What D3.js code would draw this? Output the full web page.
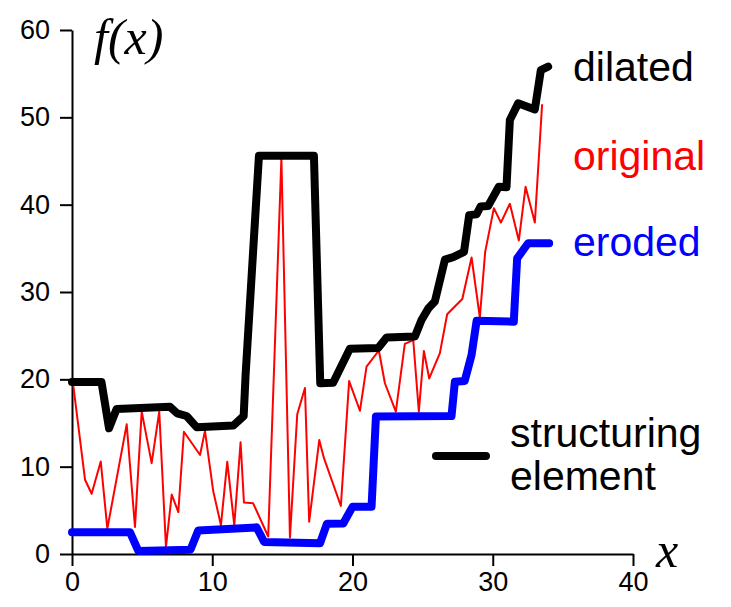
<!DOCTYPE html>
<html><head><meta charset="utf-8">
<script src="https://cdn.jsdelivr.net/npm/d3@7"></script>
<style>body{margin:0;background:#fff}</style>
</head><body>
<svg id="chart" width="731" height="607"></svg>
<script>
// original (red) samples
const origX = [0.1, 0.93, 1.40, 2.05, 2.52, 3.90, 4.49, 4.73, 4.97, 5.68, 6.22, 6.70, 7.11, 7.58, 7.98, 9.13, 9.48, 10.07, 10.62, 11.07, 11.57, 12.02, 12.26, 12.92, 13.99, 14.93, 15.54, 16.06, 16.61, 16.91, 17.63, 17.96, 19.17, 19.76, 20.53, 21.0, 21.88, 22.31, 23.09, 23.73, 24.33, 24.73, 25.09, 25.47, 26.23, 26.75, 27.83, 28.49, 29.08, 29.46, 30.08, 30.58, 31.22, 31.86, 32.34, 33.0, 33.52];
const origY = [19.2, 8.5, 6.9, 10.6, 2.9, 14.85, 3.1, 9.8, 16.3, 10.4, 16.3, 0.8, 6.8, 4.8, 14.0, 11.34, 14.1, 7.2, 3.3, 10.57, 3.3, 12.8, 5.9, 5.8, 2.0, 45.3, 1.9, 16.0, 19.0, 3.7, 13.05, 11.0, 5.5, 19.8, 16.4, 21.45, 23.3, 19.55, 16.3, 24.05, 24.5, 16.3, 23.25, 20.1, 23.0, 27.45, 29.2, 33.95, 27.1, 34.6, 39.6, 37.95, 40.1, 35.9, 42.05, 37.95, 51.5];
// dilated (black)
const dilX = [0, 2.1, 2.64, 3.18, 6.98, 7.5, 8.17, 8.9, 11.5, 12.24, 12.38, 13.33, 17.25, 17.7, 18.62, 19.81, 21.83, 22.43, 24.45, 24.92, 25.4, 25.87, 26.59, 27.18, 27.95, 28.32, 28.85, 29.13, 29.67, 30.43, 30.98, 31.22, 31.81, 33.0, 33.43, 33.95];
const dilY = [19.7, 19.7, 14.4, 16.6, 16.85, 16.1, 15.8, 14.5, 14.7, 15.8, 20.6, 45.6, 45.6, 19.55, 19.6, 23.5, 23.6, 24.8, 24.9, 26.8, 28.1, 28.9, 33.7, 34.0, 34.6, 38.8, 38.9, 39.8, 39.85, 42.05, 42.0, 49.7, 51.6, 50.9, 55.4, 55.8];
// eroded (blue)
const eroX = [0, 4.13, 4.73, 8.45, 9.0, 13.16, 13.7, 17.68, 18.18, 19.34, 20.0, 21.36, 21.67, 27.06, 27.3, 28.0, 28.49, 28.85, 31.5, 31.74, 32.52, 34.02];
const eroY = [2.5, 2.5, 0.35, 0.5, 2.7, 3.05, 1.38, 1.22, 3.47, 3.5, 5.4, 5.42, 15.75, 15.8, 19.73, 19.8, 22.8, 26.7, 26.6, 33.86, 35.58, 35.58];
const xTicks = [0, 10, 20, 30, 40];
const yTicks = [0, 10, 20, 30, 40, 50, 60];
const labels = ["dilated", "original", "eroded"];
const legendLines = ["structuring", "element"];

const svg = d3.select("#chart");
const x = d3.scaleLinear().domain([0, 40]).range([72, 633]);
const y = d3.scaleLinear().domain([0, 60]).range([554, 30]);

const xAxis = svg.append("g").attr("transform", "translate(0,554)")
  .call(d3.axisBottom(x).tickValues(xTicks).tickSize(12).tickSizeOuter(0).tickPadding(6));
const yAxis = svg.append("g").attr("transform", "translate(72,0)")
  .call(d3.axisLeft(y).tickValues(yTicks).tickSize(12).tickSizeOuter(0).tickPadding(10));
[xAxis, yAxis].forEach(g => {
  g.selectAll("path,line").attr("stroke", "#000").attr("stroke-width", 2);
  g.selectAll("text").attr("font-family", "Liberation Sans, Arial, sans-serif").attr("font-size", 27).attr("fill", "#000");
});

const line = d3.line().x(d => x(d[0])).y(d => y(d[1]));
const zip = (a, b) => a.map((v, i) => [v, b[i]]);

svg.append("path").datum(zip(origX, origY)).attr("d", line)
  .attr("fill", "none").attr("stroke", "#ff0000").attr("stroke-width", 2).attr("stroke-linejoin", "round");
svg.append("path").datum(zip(eroX, eroY)).attr("d", line)
  .attr("fill", "none").attr("stroke", "#0000ff").attr("stroke-width", 8).attr("stroke-linejoin", "round").attr("stroke-linecap", "round");
svg.append("path").datum(zip(dilX, dilY)).attr("d", line)
  .attr("fill", "none").attr("stroke", "#000").attr("stroke-width", 8).attr("stroke-linejoin", "round").attr("stroke-linecap", "round");

const font = "Liberation Sans, Arial, sans-serif";
const colors = ["#000", "#ff0000", "#0000ff"];
const baselines = [81, 170, 256];
labels.forEach((t, i) => svg.append("text").attr("x", 573).attr("y", baselines[i])
  .attr("font-family", font).attr("font-size", 41).attr("fill", colors[i]).text(t));

svg.append("line").attr("x1", 436).attr("x2", 486).attr("y1", 456).attr("y2", 456)
  .attr("stroke", "#000").attr("stroke-width", 8).attr("stroke-linecap", "round");
legendLines.forEach((t, i) => svg.append("text").attr("x", 510).attr("y", 447 + i * 43)
  .attr("font-family", font).attr("font-size", 41).attr("fill", "#000").text(t));

svg.append("text").attr("x", 94).attr("y", 54).attr("font-family", "Liberation Serif, Times New Roman, serif")
  .attr("font-style", "italic").attr("font-size", 50).text("f(x)");
svg.append("text").attr("x", 656).attr("y", 567).attr("font-family", "Liberation Serif, Times New Roman, serif")
  .attr("font-style", "italic").attr("font-size", 50).text("x");
</script>
</body></html>
